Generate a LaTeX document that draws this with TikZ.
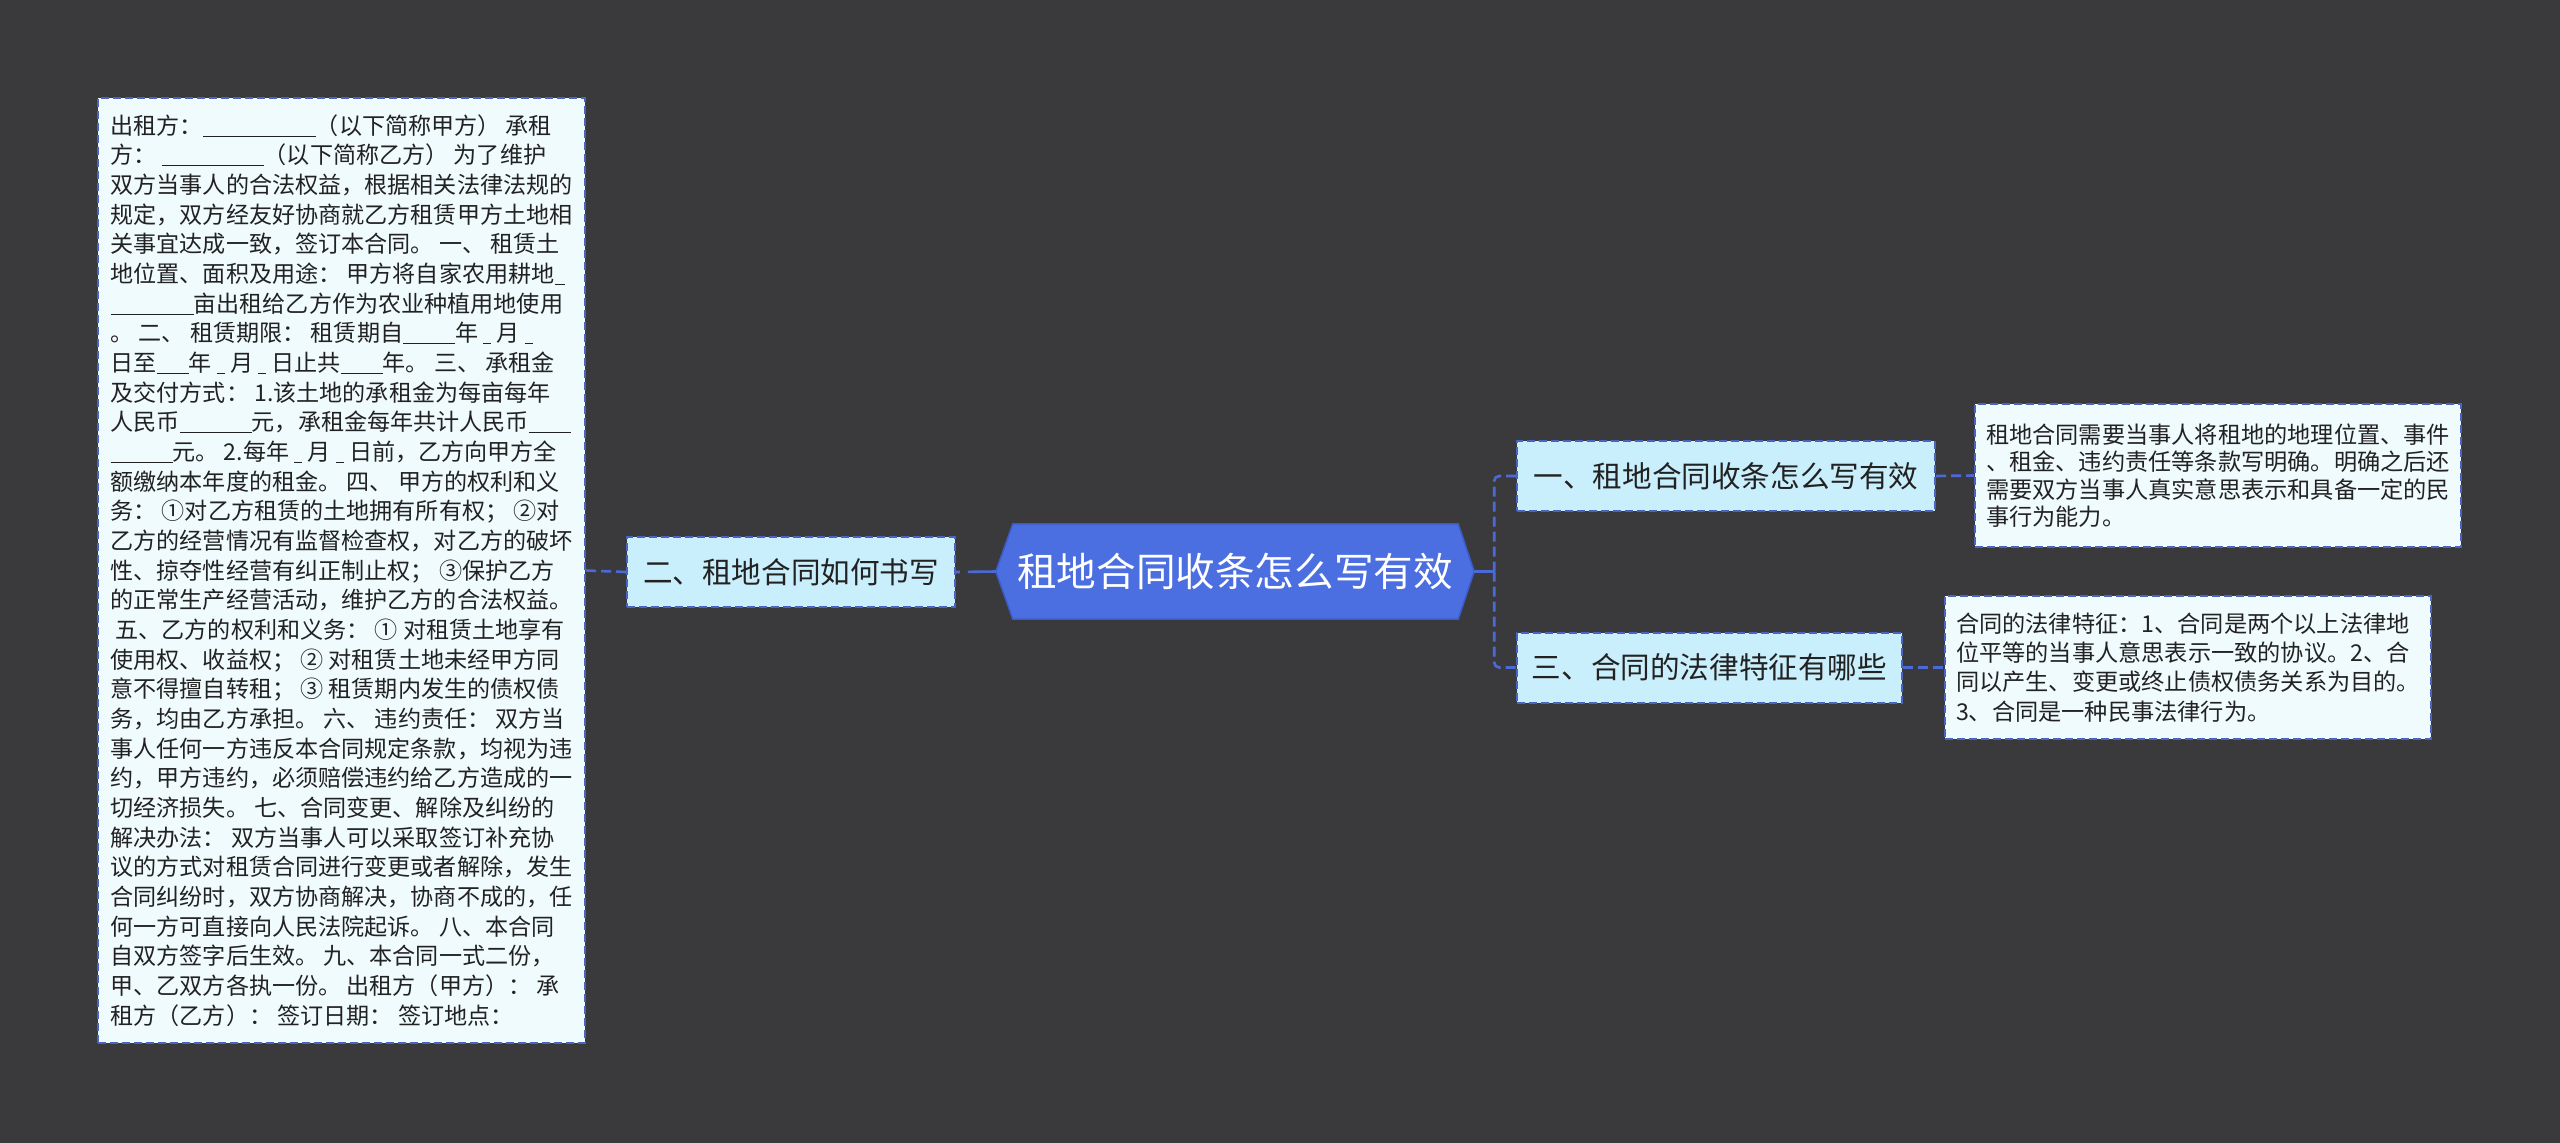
\documentclass[tikz,border=0pt]{standalone}
\usepackage{fontspec}
\setmainfont{Noto Sans CJK SC}
\usetikzlibrary{calc}
\definecolor{bgc}{HTML}{3A393C}
\definecolor{cblue}{HTML}{4B6EE0}
\definecolor{cedge}{HTML}{3E5CC8}
\definecolor{linkc}{HTML}{4B6AD8}
\definecolor{midfill}{HTML}{C9EEFC}
\definecolor{leaffill}{HTML}{F0FBFE}
\definecolor{boxedge}{HTML}{4A64C2}
\definecolor{txt}{HTML}{222222}
\newcommand\blankline[1]{\rule[-2.4pt]{#1pt}{1.05pt}}
\pgfdeclarelayer{bgl}
\pgfdeclarelayer{shp}
\pgfsetlayers{bgl,shp,main}
\begin{document}
\begin{tikzpicture}[x=1pt,y={(0pt,-1pt)},
  midbox/.style={draw=boxedge, line width=2pt, dash pattern=on 8pt off 4pt, fill=midfill,
    text=txt, inner sep=0pt, minimum height=70pt, font=\fontsize{29.6pt}{34pt}\selectfont},
  leafbox/.style={draw=boxedge, line width=2pt, dash pattern=on 8pt off 4pt, fill=leaffill,
    text=txt, inner sep=0pt, align=left},
  dashlink/.style={draw=linkc, line width=2.6pt, dash pattern=on 10pt off 5pt},
  solidlink/.style={draw=linkc, line width=2.6pt},
  firstlink/.style={draw=linkc, line width=2.6pt, dash pattern=on 28pt off 8pt on 30pt off 10pt}
]
\begin{pgfonlayer}{bgl}
\fill[bgc] (0,0) rectangle (2560,1143);
\end{pgfonlayer}
\useasboundingbox (0,0) rectangle (2560,1143);

% central node
\node[text=white, inner sep=0pt, minimum width=478pt, minimum height=95pt,
  font=\fontsize{39.6pt}{44pt}\selectfont] (c) at (1235,571.5) {租地合同收条怎么写有效};
\begin{pgfonlayer}{shp}
\filldraw[fill=cblue, draw=cedge, line width=1.5pt]
  (c.west) -- ($(c.north west)+(17,0)$) -- ($(c.north east)+(-16,0)$) -- (c.east)
  -- ($(c.south east)+(-16,0)$) -- ($(c.south west)+(17,0)$) -- cycle;
\end{pgfonlayer}

% level-1 nodes
\node[midbox, minimum width=328pt] (n2) at (791,572) {二、租地合同如何书写};
\node[midbox, minimum width=418pt] (n1) at (1726,476) {一、租地合同收条怎么写有效};
\node[midbox, minimum width=385pt] (n3) at (1709.5,667.5) {三、合同的法律特征有哪些};

% leaf boxes
\node[leafbox, minimum width=487pt, minimum height=945pt,
  font=\fontsize{23.1pt}{29.67pt}\selectfont] (lb) at (341.5,570.5) {%
出租方：\blankline{113}（以下简称甲方） 承租\\
方： \blankline{102}（以下简称乙方） 为了维护\\
双方当事人的合法权益，根据相关法律法规的\\
规定，双方经友好协商就乙方租赁甲方土地相\\
关事宜达成一致，签订本合同。 一、 租赁土\\
地位置、面积及用途： 甲方将自家农用耕地\blankline{10}\\
\blankline{83}亩出租给乙方作为农业种植用地使用\\
。 二、 租赁期限： 租赁期自\blankline{52}年 \blankline{8} 月 \blankline{8}\\
日至\blankline{32}年 \blankline{8} 月 \blankline{8} 日止共\blankline{42}年。 三、 承租金\\
及交付方式： 1.该土地的承租金为每亩每年\\
人民币\blankline{72}元，承租金每年共计人民币\blankline{42}\\
\blankline{62}元。 2.每年 \blankline{8} 月 \blankline{8} 日前，乙方向甲方全\\
额缴纳本年度的租金。 四、 甲方的权利和义\\
务： ①对乙方租赁的土地拥有所有权； ②对\\
乙方的经营情况有监督检查权，对乙方的破坏\\
性、掠夺性经营有纠正制止权； ③保护乙方\\
的正常生产经营活动，维护乙方的合法权益。\\
\hspace*{5pt}五、乙方的权利和义务： ① 对租赁土地享有\\
使用权、收益权； ② 对租赁土地未经甲方同\\
意不得擅自转租； ③ 租赁期内发生的债权债\\
务，均由乙方承担。 六、 违约责任： 双方当\\
事人任何一方违反本合同规定条款，均视为违\\
约，甲方违约，必须赔偿违约给乙方造成的一\\
切经济损失。 七、合同变更、解除及纠纷的\\
解决办法： 双方当事人可以采取签订补充协\\
议的方式对租赁合同进行变更或者解除，发生\\
合同纠纷时，双方协商解决，协商不成的，任\\
何一方可直接向人民法院起诉。 八、本合同\\
自双方签字后生效。 九、本合同一式二份，\\
甲、乙双方各执一份。 出租方（甲方）： 承\\
租方（乙方）： 签订日期： 签订地点：};

\node[leafbox, minimum width=486pt, minimum height=143pt,
  font=\fontsize{23.2pt}{27.3pt}\selectfont] (r1) at (2218,475.5) {%
租地合同需要当事人将租地的地理位置、事件\\
、租金、违约责任等条款写明确。明确之后还\\
需要双方当事人真实意思表示和具备一定的民\\
事行为能力。};

\node[leafbox, minimum width=486pt, minimum height=143pt,
  font=\fontsize{23.2pt}{29.3pt}\selectfont] (r2) at (2188,667.5) {%
合同的法律特征：1、合同是两个以上法律地\\
位平等的当事人意思表示一致的协议。2、合\\
同以产生、变更或终止债权债务关系为目的。\\
3、合同是一种民事法律行为。};

% connectors
\draw[firstlink] (c.west) -- (n2.east);
\draw[dashlink] (n2.west) -- (lb.east);
\draw[solidlink] (c.east) -- ++(20,0) coordinate (trunk);
\draw[dashlink, rounded corners=5pt] (trunk) |- (n1.west);
\draw[dashlink, rounded corners=5pt] (trunk) |- (n3.west);
\draw[dashlink] (n1.east) -- (r1.west);
\draw[dashlink] (n3.east) -- (r2.west);
\end{tikzpicture}
\end{document}
